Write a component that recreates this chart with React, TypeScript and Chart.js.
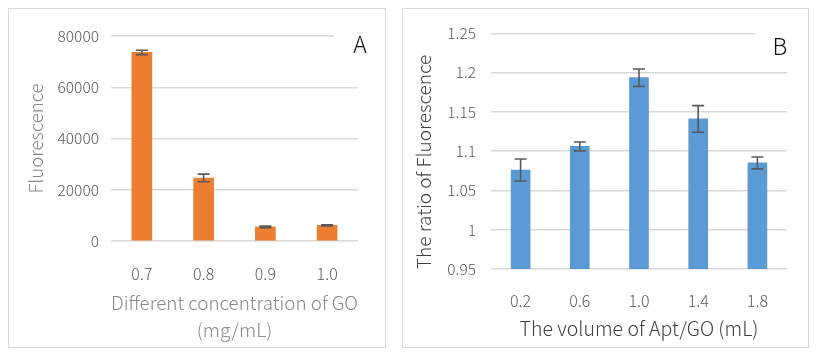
import React, { useEffect, useRef } from "react";
import { Chart, registerables } from "chart.js";

Chart.register(...registerables);

// ---- Panel A data ----
const categoriesA = ["0.7", "0.8", "0.9", "1.0"];
const valuesA = [73600, 24600, 5500, 6100];
const errorsA = [850, 1500, 300, 200];
const yTicksA = ["0", "20000", "40000", "60000", "80000"];

// ---- Panel B data ----
const categoriesB = ["0.2", "0.6", "1.0", "1.4", "1.8"];
const valuesB = [1.076, 1.106, 1.1935, 1.141, 1.085];
const errorsB = [0.014, 0.0056, 0.011, 0.017, 0.0075];
const yTicksB = ["0.95", "1", "1.05", "1.1", "1.15", "1.2", "1.25"];

const FONT = "'Noto Sans CJK SC', 'Noto Sans', sans-serif";
const W = 300;

function errorBarPlugin(errors: number[], color: string) {
  return {
    id: "errbars",
    afterDatasetsDraw(chart: any) {
      const meta = chart.getDatasetMeta(0);
      const y = chart.scales.y;
      const ctx = chart.ctx;
      const data = chart.data.datasets[0].data as number[];
      ctx.save();
      ctx.strokeStyle = color;
      ctx.lineWidth = 1.6;
      meta.data.forEach((bar: any, i: number) => {
        const v = data[i];
        const e = errors[i];
        const t = y.getPixelForValue(v + e);
        const b = y.getPixelForValue(v - e);
        const x = bar.x;
        const hw = 6;
        ctx.beginPath();
        ctx.moveTo(x, t);
        ctx.lineTo(x, b);
        ctx.moveTo(x - hw, t);
        ctx.lineTo(x + hw, t);
        ctx.moveTo(x - hw, b);
        ctx.lineTo(x + hw, b);
        ctx.stroke();
      });
      ctx.restore();
    },
  };
}

function letterPlugin(letter: string, cut: number, dx: number, dy: number) {
  return {
    id: "letter",
    afterDraw(chart: any) {
      const { ctx, chartArea, width } = chart;
      ctx.save();
      ctx.fillStyle = "#ffffff";
      ctx.fillRect(chartArea.right - cut, chartArea.top - 4, width - (chartArea.right - cut), 8);
      ctx.fillStyle = "#111111";
      ctx.font = `${W} 23px ${FONT}`;
      ctx.textAlign = "center";
      ctx.textBaseline = "middle";
      ctx.fillText(letter, chartArea.right + dx, chartArea.top + dy);
      ctx.restore();
    },
  };
}

function ChartA() {
  const ref = useRef<HTMLCanvasElement>(null);
  useEffect(() => {
    const chart = new Chart(ref.current as HTMLCanvasElement, {
      type: "bar",
      data: {
        labels: categoriesA,
        datasets: [{ data: valuesA, backgroundColor: "#ED7D31", barThickness: 20 } as any],
      },
      options: {
        responsive: false,
        animation: false,
        layout: { padding: { top: 27, right: 27, left: 0, bottom: 0 } },
        plugins: { legend: { display: false }, tooltip: { enabled: false } },
        scales: {
          x: {
            grid: { display: false },
            border: { display: false },
            ticks: { color: "#595959", font: { family: FONT, size: 16, weight: W }, padding: 15.5 },
            title: {
              display: true,
              text: ["Different concentration of GO", "(mg/mL)"],
              color: "#898989",
              font: { family: FONT, size: 19, lineHeight: 1.42, weight: W },
              padding: { top: 0, bottom: 3.5 },
            },
            afterFit: (s: any) => {
              s.height = 106;
            },
          },
          y: {
            min: 0,
            max: 80000,
            ticks: {
              stepSize: 20000,
              color: "#595959",
              font: { family: FONT, size: 15.5, weight: W },
              padding: 12,
              callback: (v: any, i: number) => yTicksA[i] ?? String(v),
            },
            grid: { color: "#d9d9d9", lineWidth: 1.5, drawTicks: false },
            border: { display: false },
            title: {
              display: true,
              text: "Fluorescence",
              color: "#898989",
              font: { family: FONT, size: 18.5, weight: W },
              padding: { top: 16, bottom: 0 },
            },
            afterFit: (s: any) => {
              s.width = 102;
            },
          },
        },
      } as any,
      plugins: [errorBarPlugin(errorsA, "#595959"), letterPlugin("A", 24, 2, 8)],
    });
    return () => chart.destroy();
  }, []);
  return <canvas ref={ref} width={376} height={338} style={{ display: "block", width: 376, height: 338 }} />;
}

function ChartB() {
  const ref = useRef<HTMLCanvasElement>(null);
  useEffect(() => {
    const chart = new Chart(ref.current as HTMLCanvasElement, {
      type: "bar",
      data: {
        labels: categoriesB,
        datasets: [{ data: valuesB, backgroundColor: "#5B9BD5", barThickness: 19 } as any],
      },
      options: {
        responsive: false,
        animation: false,
        layout: { padding: { top: 21, right: 21, left: 0, bottom: 0 } },
        plugins: { legend: { display: false }, tooltip: { enabled: false } },
        scales: {
          x: {
            grid: { display: false },
            border: { display: false },
            ticks: { color: "#595959", font: { family: FONT, size: 16, weight: W }, padding: 14 },
            title: {
              display: true,
              text: "The volume of Apt/GO (mL)",
              color: "#404040",
              font: { family: FONT, size: 19.5, weight: W },
              padding: { top: 0, bottom: 6.3 },
            },
            afterFit: (s: any) => {
              s.height = 78;
            },
          },
          y: {
            min: 0.95,
            max: 1.25,
            ticks: {
              stepSize: 0.05,
              color: "#595959",
              font: { family: FONT, size: 15.5, weight: W },
              padding: 15,
              callback: (v: any, i: number) => yTicksB[i] ?? String(v),
            },
            grid: { color: "#d9d9d9", lineWidth: 1.5, drawTicks: false },
            border: { display: false },
            title: {
              display: true,
              text: "The ratio of Fluorescence",
              align: "start",
              color: "#404040",
              font: { family: FONT, size: 19, weight: W },
              padding: { top: 9.6, bottom: 0 },
            },
            afterFit: (s: any) => {
              s.width = 88;
            },
          },
        },
      } as any,
      plugins: [errorBarPlugin(errorsB, "#595959"), letterPlugin("B", 32, -7, 13)],
    });
    return () => chart.destroy();
  }, []);
  return <canvas ref={ref} width={405} height={338} style={{ display: "block", width: 405, height: 338 }} />;
}

export default function App() {
  const panel: React.CSSProperties = {
    position: "absolute",
    top: 0,
    height: 340,
    border: "1px solid #d9d9d9",
    boxSizing: "border-box",
    background: "#fff",
  };
  return (
    <div style={{ position: "relative", width: 805, height: 342 }}>
      <div style={{ ...panel, left: 0, width: 378 }}>
        <ChartA />
      </div>
      <div style={{ ...panel, left: 394, width: 407 }}>
        <ChartB />
      </div>
    </div>
  );
}
